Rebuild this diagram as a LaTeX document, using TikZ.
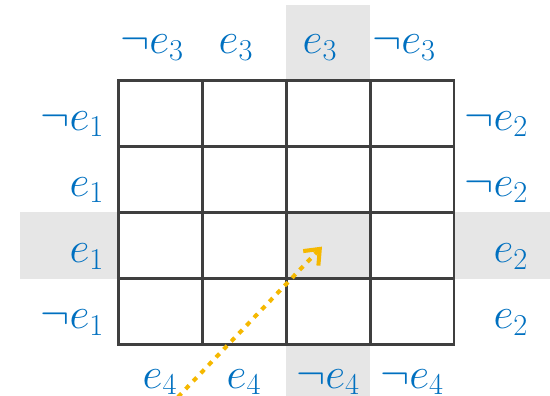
\documentclass[tikz,border=0pt]{standalone}
\usepackage{amsmath}
\usepackage{xcolor}
\usetikzlibrary{arrows.meta, positioning, calc}

\definecolor{lblblue}{HTML}{0070C0}
\definecolor{hlgray}{HTML}{E6E6E6}
\definecolor{gridgray}{HTML}{3F3F3F}
\definecolor{pathorange}{HTML}{F5B800}

\begin{document}
\begin{tikzpicture}[
    x=0.02cm, y=-0.02cm,
    cell/.style={rectangle, draw=gridgray, line width=1.7pt, minimum width=1.68cm, minimum height=1.32cm, inner sep=0pt},
    highlight/.style={fill=hlgray, draw=none},
    lit/.style={text=lblblue, font=\fontsize{25}{29}\selectfont, inner sep=0pt},
    walk/.style={-{Straight Barb[length=2.6mm, width=4.2mm, line width=2.3pt]}, line width=2.3pt, pathorange, dash pattern=on 1mm off 1.2mm}
]
    \useasboundingbox (0,0) rectangle (550,395);

    % Highlighted column and row
    \fill[highlight] (286,5) rectangle (370,80);
    \fill[highlight] (286,345) rectangle (370,400);
    \fill[highlight] (20,212) rectangle (118,279);
    \fill[highlight] (454,212) rectangle (560,279);
    \fill[highlight] (286,212) rectangle (370,279);

    % Grid cells
    \foreach \r in {1,...,4}
        \foreach \c in {1,...,4}
            \node[cell] (c\r\c) at ({118+84*(\c-0.5)},{80+66.25*(\r-0.5)}) {};

    % Column labels (top)
    \node[lit, anchor=base] (t1) at ($(c11.north)+(-8,-25)$) {$\neg e_3$};
    \node[lit, anchor=base] (t2) at ($(c12.north)+(-8,-25)$) {$e_3$};
    \node[lit, anchor=base] (t3) at ($(c13.north)+(-8,-25)$) {$e_3$};
    \node[lit, anchor=base] (t4) at ($(c14.north)+(-8,-25)$) {$\neg e_3$};

    % Column labels (bottom)
    \node[lit, anchor=base] (b1) at ($(c41.south)+(0,42)$) {$e_4$};
    \node[lit, anchor=base] (b2) at ($(c42.south)+(0,42)$) {$e_4$};
    \node[lit, anchor=base] (b3) at ($(c43.south)+(0,42)$) {$\neg e_4$};
    \node[lit, anchor=base] (b4) at ($(c44.south)+(0,42)$) {$\neg e_4$};

    % Row labels (left)
    \node[lit, anchor=base east] (l1) at ($(c11.west)+(-12,17)$) {$\neg e_1$};
    \node[lit, anchor=base east] (l2) at ($(c21.west)+(-12,17)$) {$e_1$};
    \node[lit, anchor=base east] (l3) at ($(c31.west)+(-12,17)$) {$e_1$};
    \node[lit, anchor=base east] (l4) at ($(c41.west)+(-12,17)$) {$\neg e_1$};

    % Row labels (right)
    \node[lit, anchor=base east] (r1) at ($(c14.east)+(73,17)$) {$\neg e_2$};
    \node[lit, anchor=base east] (r2) at ($(c24.east)+(73,17)$) {$\neg e_2$};
    \node[lit, anchor=base east] (r3) at ($(c34.east)+(73,17)$) {$e_2$};
    \node[lit, anchor=base east] (r4) at ($(c44.east)+(73,17)$) {$e_2$};

    % Walk into the highlighted cell
    \coordinate (start) at (178,397);
    \coordinate (tip) at ($(c33.center)+(-6,1)$);
    \draw[walk] (start) -- (tip);

\end{tikzpicture}
\end{document}
